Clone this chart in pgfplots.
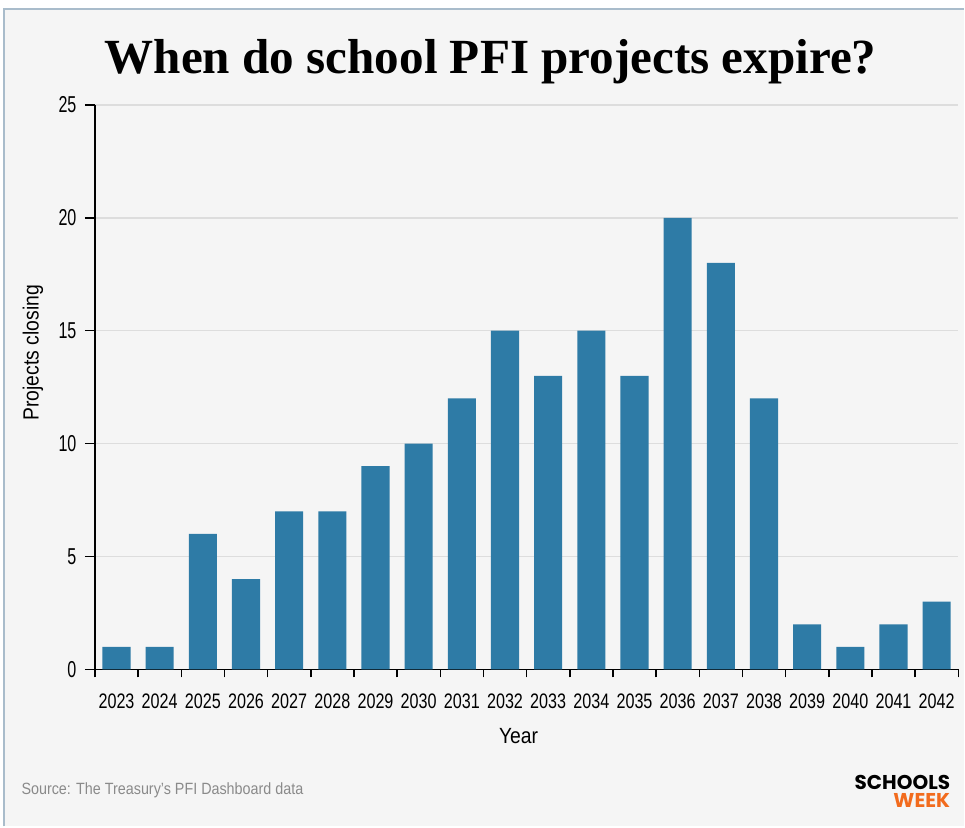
\documentclass[border=0pt]{standalone}
\usepackage{pgfplots}
\pgfplotsset{compat=1.18}
\usepackage{pgfplotstable}
\usepackage{fontspec}
\setmainfont{Liberation Sans}[FakeStretch=0.88]
\newfontfamily\xtickfont{Liberation Sans}[FakeStretch=0.77]
\newfontfamily\ytickfont{Liberation Sans}[FakeStretch=0.7]
\newfontfamily\titlefont{Liberation Serif}
\newfontfamily\logofont{Poppins}
\usepackage{graphicx}
\definecolor{bg}{HTML}{F5F5F5}
\definecolor{barc}{HTML}{2E7BA6}
\definecolor{framec}{HTML}{A9BCCB}
\definecolor{gridc}{HTML}{DDDDDD}
\definecolor{logoorange}{HTML}{F26B1D}
\definecolor{srcgrey}{HTML}{8A8A8A}
\pgfplotstableread{
x y
0 1
1 1
2 6
3 4
4 7
5 7
6 9
7 10
8 12
9 15
10 13
11 15
12 13
13 20
14 18
15 12
16 2
17 1
18 2
19 3
}\data
\begin{document}
\begin{tikzpicture}
\fill[white] (0pt,0pt) rectangle (965pt,827pt);
\fill[bg] (4pt,0pt) rectangle (965pt,818pt);
\draw[framec, line width=1.5pt] (4pt,0pt) -- (4pt,818pt) -- (965pt,818pt);
\node[inner sep=0pt] at (491pt,765pt) {\resizebox{772pt}{!}{\titlefont\bfseries When do school PFI projects expire?}};
\begin{axis}[
  at={(95pt,157pt)}, anchor=south west,
  scale only axis, width=864pt, height=565pt,
  xmin=-0.5, xmax=19.5, ymin=0, ymax=25,
  axis lines=left,
  axis line style={-, line width=1.5pt, black},
  ytick={0,5,10,15,20,25},
  xtick={0,...,19},
  xticklabels={2023,2024,2025,2026,2027,2028,2029,2030,2031,2032,2033,2034,2035,2036,2037,2038,2039,2040,2041,2042},
  minor xtick={-0.5,0.5,...,19.5},
  tick align=outside,
  major tick length=10pt,
  minor tick length=8pt,
  major x tick style={draw=none},
  tick style={black, line width=1.5pt},
  ymajorgrids,
  major grid style={gridc, line width=1.5pt},
  xticklabel style={font=\xtickfont\fontsize{21}{24}\selectfont, yshift=-11pt},
  yticklabel style={font=\ytickfont\fontsize{23}{26}\selectfont, xshift=-5pt},
  /pgf/number format/assume math mode=true,
]
\addplot[ybar, bar width=0.65, fill=barc, draw=none] table[x=x,y=y]{\data};
\end{axis}
\node[rotate=90, font=\fontsize{22}{24}\selectfont] at (33pt,474pt) {Projects closing};
\node[font=\fontsize{22}{24}\selectfont] at (519pt,90pt) {Year};
\node[anchor=west, text=srcgrey, font=\fontsize{16.3}{20}\selectfont] at (18pt,36pt) {Source: The Treasury’s PFI Dashboard data};
\node[anchor=east, inner sep=0pt, align=right, font=\logofont\bfseries\fontsize{20}{18}\selectfont] at (951pt,35pt) {SCHOOLS\\\textcolor{logoorange}{WEEK}};
\end{tikzpicture}
\end{document}
